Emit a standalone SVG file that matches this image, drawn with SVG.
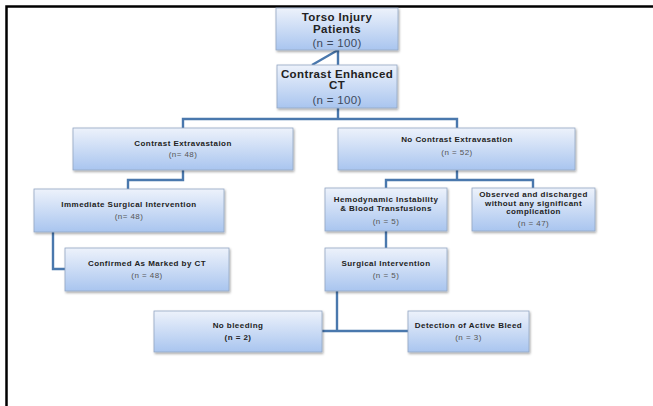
<svg xmlns="http://www.w3.org/2000/svg" width="653" height="406" viewBox="0 0 653 406">
<style>
.box{fill:url(#g);stroke:#93a7c4;stroke-width:0.8;filter:url(#sh)}
.t{font-family:"Liberation Sans",Arial,sans-serif;font-weight:bold;fill:#222;text-anchor:middle}
.n{font-family:"Liberation Sans",Arial,sans-serif;fill:#555;text-anchor:middle}
.big{font-size:11.5px;letter-spacing:0.4px}
.sm{font-size:8px;letter-spacing:0.45px}
.bn{font-family:"Liberation Sans",Arial,sans-serif;font-size:11.5px;letter-spacing:0.3px;fill:#3d4a5e;text-anchor:middle}
.c{fill:none;stroke:#4a78ad;stroke-width:2.4}
</style>
<defs>
<linearGradient id="g" x1="0" y1="0" x2="0" y2="1">
<stop offset="0" stop-color="#edf2fb"/>
<stop offset="1" stop-color="#a9c5ef"/>
</linearGradient>
<filter id="sh" x="-10%" y="-20%" width="125%" height="150%">
<feDropShadow dx="1" dy="1.5" stdDeviation="1" flood-color="#000" flood-opacity="0.35"/>
</filter>
</defs>
<rect width="653" height="406" fill="#fff"/>
<path d="M6.5,406 V6.5 H653" fill="none" stroke="#000" stroke-width="2.5"/>
<g id="connectors">
<path class="c" d="M312,65 L338,50 V65"/>
<path class="c" d="M338,108 V119"/>
<path class="c" d="M183,128 V119 H457 V128"/>
<path class="c" d="M183,170 V180 H128 V189"/>
<path class="c" d="M53,232 V269 H65"/>
<path class="c" d="M457,170 V180"/>
<path class="c" d="M386,188 V180 H533 V188"/>
<path class="c" d="M386,231 V248"/>
<path class="c" d="M337,291 V331"/>
<path class="c" d="M322,331 H408" stroke-width="1.8"/>
</g>
<g id="torso">
<rect class="box" x="276" y="8" width="122" height="42"/>
<text class="t big" x="337" y="21">Torso Injury</text>
<text class="t big" x="337" y="32.5">Patients</text>
<text class="bn" x="337" y="47">(n = 100)</text>
</g>
<g id="ct">
<rect class="box" x="277" y="65" width="120" height="43"/>
<text class="t big" x="337" y="77.5">Contrast Enhanced</text>
<text class="t big" x="337" y="89">CT</text>
<text class="bn" x="337" y="104">(n = 100)</text>
</g>
<g id="extravasation">
<rect class="box" x="73" y="128" width="220" height="42"/>
<text class="t sm" x="183" y="146">Contrast Extravastaion</text>
<text class="n sm" x="183" y="157">(n= 48)</text>
</g>
<g id="no-extravasation">
<rect class="box" x="338" y="128" width="237" height="42"/>
<text class="t sm" x="457" y="142">No Contrast Extravasation</text>
<text class="n sm" x="457" y="155">(n = 52)</text>
</g>
<g id="immediate">
<rect class="box" x="34" y="189" width="190" height="43"/>
<text class="t sm" x="129" y="207">Immediate Surgical Intervention</text>
<text class="n sm" x="129" y="219">(n= 48)</text>
</g>
<g id="confirmed">
<rect class="box" x="65" y="248" width="164" height="43"/>
<text class="t sm" x="147" y="266">Confirmed As Marked by CT</text>
<text class="n sm" x="147" y="278">(n = 48)</text>
</g>
<g id="hemodynamic">
<rect class="box" x="325" y="188" width="122" height="43"/>
<text class="t sm" x="386" y="201.5">Hemodynamic Instability</text>
<text class="t sm" x="386" y="210.5">&amp; Blood Transfusions</text>
<text class="n sm" x="386" y="224">(n = 5)</text>
</g>
<g id="observed">
<rect class="box" x="472" y="188" width="123" height="43"/>
<text class="t sm" x="533.5" y="197">Observed and discharged</text>
<text class="t sm" x="533.5" y="205.5">without any significant</text>
<text class="t sm" x="533.5" y="214">complication</text>
<text class="n sm" x="533.5" y="225.5">(n = 47)</text>
</g>
<g id="surgical">
<rect class="box" x="325" y="248" width="122" height="43"/>
<text class="t sm" x="386" y="266">Surgical Intervention</text>
<text class="n sm" x="386" y="278">(n = 5)</text>
</g>
<g id="no-bleeding">
<rect class="box" x="154" y="311" width="168" height="41"/>
<text class="t sm" x="238" y="328">No bleeding</text>
<text class="t sm" x="238" y="340">(n = 2)</text>
</g>
<g id="active-bleed">
<rect class="box" x="408" y="311" width="121" height="41"/>
<text class="t sm" x="468.5" y="328">Detection of Active Bleed</text>
<text class="n sm" x="468.5" y="340">(n = 3)</text>
</g>
</svg>
